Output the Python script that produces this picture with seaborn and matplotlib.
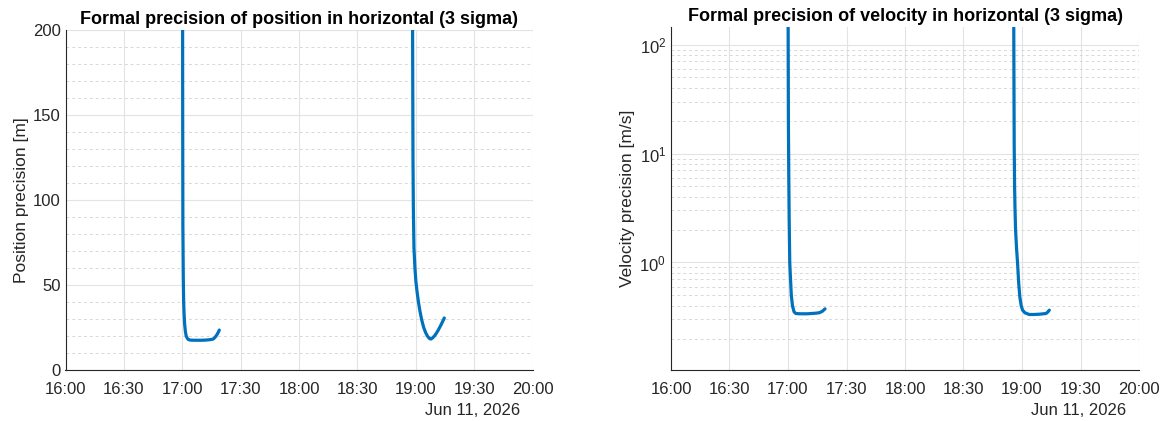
import numpy as np
import pandas as pd
import matplotlib
matplotlib.use("Agg")
import matplotlib.pyplot as plt
import matplotlib.dates as mdates
import matplotlib.ticker as mticker
import seaborn as sns

# ---- data (minutes after 16:00, Jun 11 2026) ----
pos1_t = [60.0, 60.1, 60.2, 60.3, 60.5, 60.7, 60.9, 61.2, 61.6, 62.0, 62.5, 63.0, 64.0,
          66.0, 68.0, 70.0, 72.0, 74.0, 75.9, 76.8, 77.7, 78.4, 79.0]
pos1_v = [600, 300, 150, 85, 55, 40, 33.5, 27, 22.5, 20, 18.8, 18.0, 17.6,
          17.5, 17.5, 17.5, 17.6, 17.8, 18.2, 19.2, 20.6, 22.0, 23.5]
pos2_t = [178.0, 178.1, 178.3, 178.5, 178.7, 179.0, 179.5, 180.0, 180.6, 181.3, 182.1,
          183.0, 184.0, 185.0, 186.0, 187.0, 187.7, 188.5, 189.5, 190.5, 191.5, 193.0, 194.6]
pos2_v = [800, 400, 200, 125, 95, 72, 60, 52, 46, 40, 34.5,
          29.4, 25.0, 22.0, 19.8, 18.5, 18.2, 18.8, 20.0, 21.6, 23.5, 26.8, 30.6]
vel1_t = [60.0, 60.2, 60.4, 60.6, 60.9, 61.3, 61.7, 62.3, 63.1, 64.0, 66.0, 68.0, 70.0,
          72.0, 74.0, 75.9, 77.5, 79.0]
vel1_v = [400, 20, 6, 2.5, 1.0, 0.7, 0.5, 0.4, 0.352, 0.34, 0.338, 0.338, 0.338,
          0.34, 0.342, 0.345, 0.355, 0.375]
vel2_t = [175.7, 175.85, 176.0, 176.2, 176.4, 176.7, 177.2, 177.7, 178.3, 178.9, 179.6,
          180.3, 181.5, 183.7, 186.0, 189.0, 192.3, 193.2, 194.0]
vel2_v = [400, 60, 12, 5, 3.2, 2.0, 1.35, 1.0, 0.65, 0.48, 0.4,
          0.365, 0.345, 0.333, 0.333, 0.335, 0.34, 0.35, 0.365]

base = pd.Timestamp("2026-06-11 16:00")
xlim = (base, base + pd.Timedelta(hours=4))

def frame(t, v, name):
    return pd.DataFrame({"time": base + pd.to_timedelta(t, unit="min"), "val": v, "pass": name})

pos_df = pd.concat([frame(pos1_t, pos1_v, "a"), frame(pos2_t, pos2_v, "b")])
vel_df = pd.concat([frame(vel1_t, vel1_v, "a"), frame(vel2_t, vel2_v, "b")])

sns.set_style("white")
plt.rcParams["font.family"] = ["Liberation Sans", "DejaVu Sans"]
plt.rcParams["mathtext.fontset"] = "custom"
plt.rcParams["mathtext.rm"] = "Liberation Sans"
plt.rcParams["mathtext.it"] = "Liberation Sans"

fig = plt.figure(figsize=(11.66, 4.21), dpi=100)
W, H = 1166, 421
axL = fig.add_axes([65.5 / W, 1 - 370 / H, (532.7 - 65.5) / W, (370 - 30) / H])
axR = fig.add_axes([671 / W, 1 - 370 / H, (1139 - 671) / W, (370 - 27) / H])

blue = "#0072BD"
axis_col = "#262626"

for ax, df in ((axL, pos_df), (axR, vel_df)):
    sns.lineplot(data=df, x="time", y="val", units="pass", estimator=None, sort=False,
                 color=blue, linewidth=2.3, ax=ax, legend=False)

axR.set_yscale("log")
axL.set_ylim(0, 200)
axR.set_ylim(0.103, 145)
axL.yaxis.set_major_locator(mticker.MultipleLocator(50))
axL.yaxis.set_minor_locator(mticker.MultipleLocator(10))
axR.yaxis.set_major_locator(mticker.LogLocator(base=10))
axR.yaxis.set_minor_locator(mticker.LogLocator(base=10, subs=np.arange(2, 10)))
axR.yaxis.set_minor_formatter(mticker.NullFormatter())
axR.yaxis.set_major_formatter(mticker.LogFormatterMathtext())

titles = ["Formal precision of position in horizontal (3 sigma)",
          "Formal precision of velocity in horizontal (3 sigma)"]
ylabels = ["Position precision [m]", "Velocity precision [m/s]"]

for ax, title, yl in zip((axL, axR), titles, ylabels):
    ax.set_xlim(*xlim)
    ax.xaxis.set_major_locator(mdates.MinuteLocator(byminute=[0, 30]))
    ax.xaxis.set_major_formatter(mdates.DateFormatter("%H:%M"))
    ax.set_title(title, fontsize=13, fontweight="bold", color="black", pad=4)
    ax.set_xlabel("")
    ax.set_ylabel(yl, fontsize=12.5, color=axis_col, labelpad=3)
    ax.grid(True, which="major", color="#e3e3e3", linewidth=0.8, linestyle="-")
    ax.grid(True, which="minor", axis="y", color="#d8d8d8", linewidth=0.7, linestyle=(0, (3, 3)))
    ax.set_axisbelow(True)
    for s in ("top", "right"):
        ax.spines[s].set_visible(False)
    for s in ("left", "bottom"):
        ax.spines[s].set_color(axis_col)
        ax.spines[s].set_linewidth(0.8)
    ax.tick_params(axis="both", which="both", direction="in", colors=axis_col,
                   labelsize=12, labelcolor=axis_col)
    ax.tick_params(axis="both", which="major", length=4)
    ax.tick_params(axis="both", which="minor", length=2)
    ax.tick_params(axis="x", pad=9)
    ax.text(1.0 - 13 / 467, -33 / 340, "Jun 11, 2026", transform=ax.transAxes,
            ha="right", va="top", fontsize=12, color=axis_col)

fig.savefig("out.png", dpi=100, facecolor="white")
